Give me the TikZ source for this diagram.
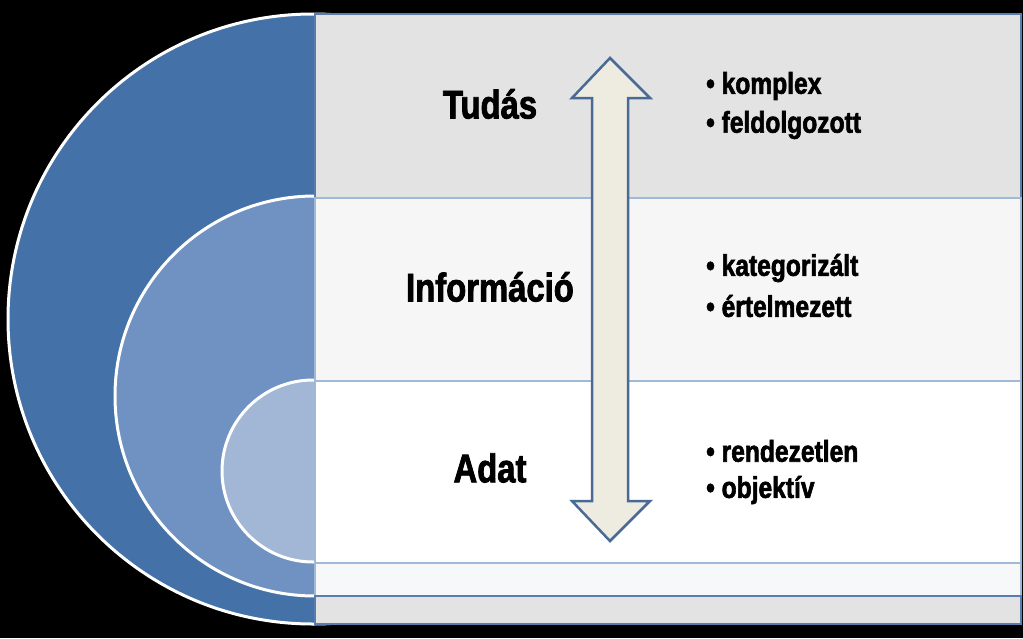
\documentclass[tikz,border=0pt]{standalone}
\usepackage{fontspec}
\setmainfont{Liberation Sans}[FakeStretch=0.82,FakeBold=2]
\begin{document}
\begin{tikzpicture}[x=1pt,y=-1pt,
  title/.style={font=\bfseries\fontsize{40}{44}\selectfont,anchor=center},
  item/.style={font=\bfseries\fontsize{30}{33}\selectfont,anchor=west,inner sep=0}]
\fill[black] (0,0) rectangle (1023,638);
\useasboundingbox (0,0) rectangle (1023,638);
\fill[fill={rgb,255:red,68;green,114;blue,168},draw=white,line width=3pt] (313,319) circle (305);
\fill[fill={rgb,255:red,112;green,146;blue,194},draw=white,line width=3pt] (315,396) circle (200);
\fill[fill={rgb,255:red,162;green,182;blue,214},draw=white,line width=3pt] (313,471) circle (91);
\definecolor{bd}{RGB}{90,125,175}
\definecolor{bl}{RGB}{160,185,215}
\node[draw=bd,line width=2pt,fill={rgb,255:red,227;green,227;blue,227},minimum width=706,minimum height=184,inner sep=0,anchor=north west] (r1) at (314,13) {};
\node[draw=bl,line width=2pt,fill={rgb,255:red,246;green,246;blue,246},minimum width=706,minimum height=184,inner sep=0,anchor=north west] (r2) at (314,197) {};
\node[draw=bl,line width=2pt,fill=white,minimum width=706,minimum height=182,inner sep=0,anchor=north west] (r3) at (314,380) {};
\node[draw=bl,line width=2pt,fill={rgb,255:red,247;green,248;blue,250},minimum width=706,minimum height=33,inner sep=0,anchor=north west] (r4) at (314,562) {};
\node[draw=bd,line width=2pt,fill={rgb,255:red,227;green,227;blue,227},minimum width=706,minimum height=28,inner sep=0,anchor=north west] (r5) at (314,595) {};
\fill[fill={rgb,255:red,238;green,236;blue,225},draw={rgb,255:red,74;green,106;blue,150},line width=2.5pt,line join=miter]
 (610,58) -- (650,98) -- (628,98) -- (628,501) -- (650,501) -- (610,541) -- (572,501) -- (592,501) -- (592,98) -- (572,98) -- cycle;
\node[title] (t1) at (490,104) {Tudás};
\node[title] (t2) at (490,287) {Információ};
\node[title] (t3) at (490,468) {Adat};
\node[item] (a1) at (706,86) {• komplex};
\node[item] (a2) at (706,125) {• feldolgozott};
\node[item] (b1) at (706,268) {• kategorizált};
\node[item] (b2) at (706,306) {• értelmezett};
\node[item] (c1) at (706,451) {• rendezetlen};
\node[item] (c2) at (706,490) {• objektív};
\end{tikzpicture}
\end{document}
